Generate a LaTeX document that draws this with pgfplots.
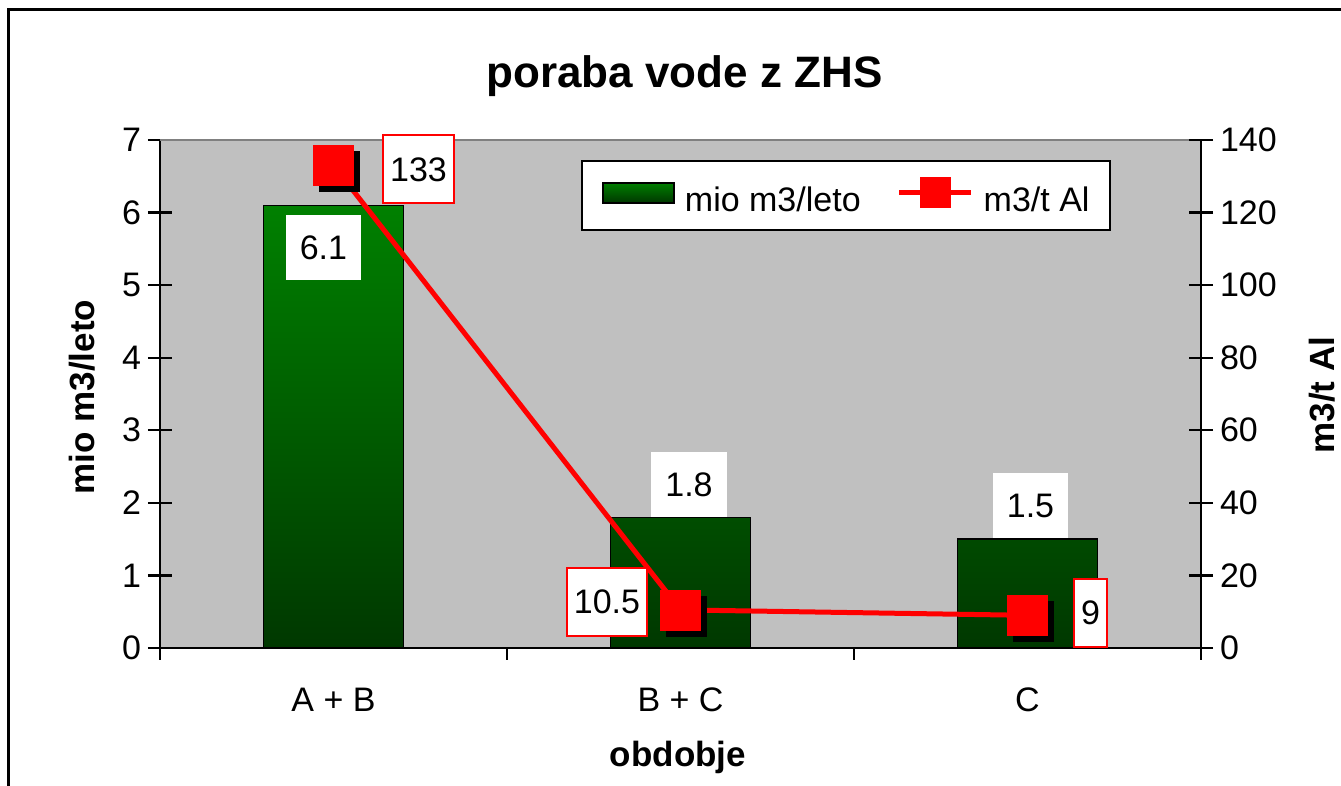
\documentclass[border=0pt]{standalone}
\usepackage{fontspec}
\setmainfont{Liberation Sans}
\usepackage{pgfplots}
\pgfplotsset{compat=1.18}
\definecolor{plotbg}{RGB}{192,192,192}
\definecolor{bartop}{RGB}{0,128,0}
\definecolor{barbot}{RGB}{0,56,0}
\newcommand{\lbl}{\fontsize{17}{20}\selectfont}
\newcommand{\blbl}{\fontsize{17.5}{21}\selectfont\bfseries}
\tikzset{
  linelbl/.style={fill=white, draw=red, line width=1pt, font=\lbl, inner xsep=3.5pt, inner ysep=0pt, minimum height=34pt},
  barlbl/.style={fill=white, font=\lbl, inner xsep=7pt, inner ysep=0pt, minimum height=32.5pt},
}
\pgfplotsset{
  barleg/.style={legend image code/.code={\draw[draw=black, line width=1pt, top color=bartop, bottom color=barbot] (0pt,-1pt) rectangle (35.5pt,9pt);}},
  lineleg/.style={legend image code/.code={\draw[red, line width=2.5pt] (0pt,4pt) -- (36pt,4pt); \fill[red] (10.75pt,-3.25pt) rectangle (25.25pt,11.25pt);}},
}
\begin{document}
\begin{tikzpicture}
\useasboundingbox (-80pt,-69pt) rectangle (590.5pt,324pt);
\draw[line width=1.5pt] (-75.5pt,-80pt) -- (-75.5pt,319pt) -- (600pt,319pt);
\begin{axis}[
  at={(0pt,0pt)}, anchor=south west,
  scale only axis, width=520.5pt, height=254pt,
  xmin=-0.5, xmax=2.5, ymin=0, ymax=7,
  clip=false,
  axis x line*=bottom, axis y line*=left,
  axis line style={line width=1.2pt, -},
  every outer x axis line/.append style={-},
  every outer y axis line/.append style={-},
  axis background/.style={fill=plotbg},
  tick align=center, major tick length=12pt,
  tick style={black, line width=1.2pt},
  xtick={0,1,2}, xticklabels={A + B,B + C,C},
  xtick style={draw=none},
  xticklabel style={anchor=base, yshift=-26pt},
  extra x ticks={-0.5,0.5,1.5,2.5},
  extra x tick labels={},
  extra x tick style={xtick style={draw=black, line width=1.2pt}, major tick length=6pt, tick align=outside},
  ytick={0,1,...,7},
  yticklabel style={anchor=east, xshift=0pt},
  ticklabel style={font=\lbl},
  /pgf/number format/assume math mode=true,
  xlabel={obdobje},
  xlabel style={at={(axis description cs:0.4976,-0.2146)}, anchor=center, font=\blbl},
  ylabel={mio m3/leto},
  ylabel style={at={(axis description cs:-0.075,0.494)}, anchor=center, font=\blbl},
]
\addplot[ybar, bar width=70pt, draw=black, line width=0.8pt, top color=bartop, bottom color=barbot]
  coordinates {(0,6.1) (1,1.8) (2,1.5)};
\draw[color={rgb,255:red,128;green,128;blue,128}, line width=1pt] (rel axis cs:0,1) -- (rel axis cs:1,1);
\node[barlbl] at (axis cs:-0.029,5.519) {6.1};
\node[barlbl] at (axis cs:1.0245,2.253) {1.8};
\node[barlbl] at (axis cs:2.0086,1.957) {1.5};
\node[font=\fontsize{22}{26}\selectfont\bfseries, anchor=base] at (rel axis cs:0.5038,1.1024) {poraba vode z ZHS};
\end{axis}
\begin{axis}[
  at={(0pt,0pt)}, anchor=south west,
  scale only axis, width=520.5pt, height=254pt,
  xmin=-0.5, xmax=2.5, ymin=0, ymax=140,
  clip=false,
  axis x line=none, axis y line*=right,
  axis line style={line width=1.2pt, -},
  every outer y axis line/.append style={-},
  tick align=center, major tick length=12pt,
  tick style={black, line width=1.2pt},
  ytick={0,20,...,140},
  yticklabel style={anchor=west},
  ticklabel style={font=\lbl},
  /pgf/number format/assume math mode=true,
  ylabel={m3/t Al},
  ylabel style={at={(axis description cs:1.1162,0.498)}, anchor=center, font=\blbl},
  legend columns=2,
  legend style={at={(axis description cs:0.4044,0.9606)}, anchor=north west,
    draw=black, line width=1pt, fill=white, font=\lbl,
    nodes={inner sep=0pt},
    inner xsep=10pt, inner ysep=8pt,
    /tikz/every odd column/.append style={column sep=5pt},
    /tikz/every even column/.append style={column sep=18pt}},
]
\addlegendimage{barleg}
\addlegendentry{mio m3/leto}
\addlegendimage{lineleg}
\addlegendentry{m3/t Al\hspace{16pt}}
\addplot[forget plot, only marks, mark=square*, mark size=10pt, mark options={fill=black, draw=black, xshift=3pt, yshift=-3.2pt}]
  coordinates {(0,133) (1,10.5) (2,9)};
\addplot[forget plot, red, line width=2.5pt, mark=square*, mark size=10pt, mark options={solid, fill=red, draw=red, line width=0.3pt}]
  coordinates {(0,133) (1,10.5) (2,9)};
\node[linelbl] at (axis cs:0.245,131.9) {133};
\node[linelbl] at (axis cs:0.788,12.68) {10.5};
\node[linelbl] at (axis cs:2.1816,9.78) {9};
\end{axis}
\end{tikzpicture}
\end{document}
